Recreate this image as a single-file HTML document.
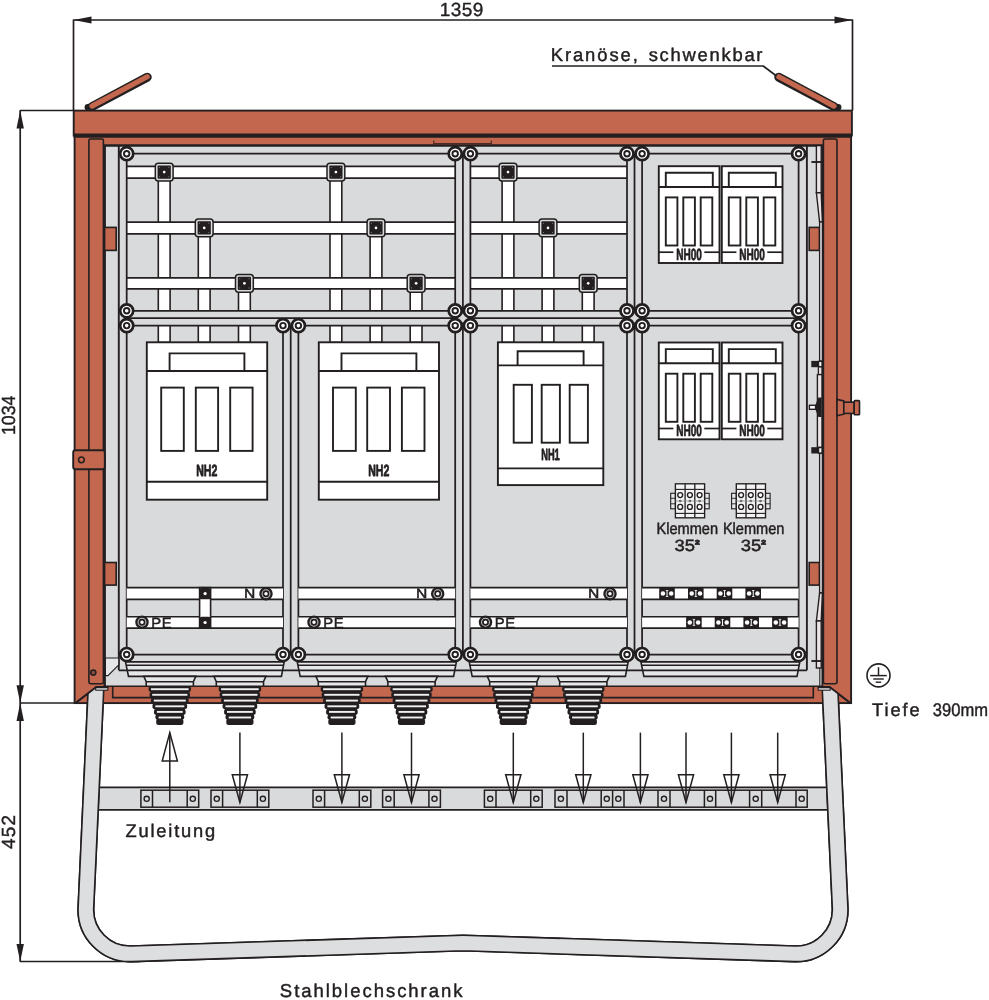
<!DOCTYPE html>
<html lang="de">
<head>
<meta charset="utf-8">
<title>Stahlblechschrank</title>
<style>
html,body{margin:0;padding:0;background:#fff;}
body{width:989px;height:1000px;overflow:hidden;}
svg{display:block;font-family:"Liberation Sans",sans-serif;will-change:transform;}
text{text-rendering:geometricPrecision;}
</style>
</head>
<body>
<svg width="989" height="1000" viewBox="0 0 989 1000" role="img" aria-label="Stahlblechschrank 1359 x 1034, Tiefe 390mm">
<g id="dims">
<line x1="73.5" y1="20" x2="852.5" y2="20" stroke="#231f20" stroke-width="1.7"/>
<line x1="73.5" y1="19.5" x2="73.5" y2="110.5" stroke="#231f20" stroke-width="1.7"/>
<line x1="852.5" y1="19.5" x2="852.5" y2="110.5" stroke="#231f20" stroke-width="1.7"/>
<path d="M73.5,20 L91.5,16.5 L91.5,23.5 Z" fill="#231f20"/>
<path d="M852.5,20 L834.5,16.5 L834.5,23.5 Z" fill="#231f20"/>
<line x1="20.2" y1="110.5" x2="20.2" y2="961.5" stroke="#231f20" stroke-width="1.7"/>
<line x1="19.7" y1="110.5" x2="74" y2="110.5" stroke="#231f20" stroke-width="1.7"/>
<line x1="19.7" y1="703" x2="75" y2="703" stroke="#231f20" stroke-width="1.7"/>
<line x1="19.7" y1="961.5" x2="140" y2="961.5" stroke="#231f20" stroke-width="1.7"/>
<path d="M20.2,110.5 L16.5,128.5 L23.9,128.5 Z" fill="#231f20"/>
<path d="M20.2,703 L16.5,685.3 L23.9,685.3 Z" fill="#231f20"/>
<path d="M20.2,703 L16.5,721 L23.9,721 Z" fill="#231f20"/>
<path d="M20.2,961.5 L16.5,944 L23.9,944 Z" fill="#231f20"/>
<text x="439.84" y="15.5" font-size="19" fill="#231f20" letter-spacing="0.42" stroke="#231f20" stroke-width="0.4" stroke-linejoin="round">1359</text>
<text x="15" y="435.12" font-size="19" fill="#231f20" textLength="39.51" lengthAdjust="spacingAndGlyphs" stroke="#231f20" stroke-width="0.4" stroke-linejoin="round" transform="rotate(-90 15 435.12)">1034</text>
<text x="15" y="849.05" font-size="19" fill="#231f20" letter-spacing="1.2" stroke="#231f20" stroke-width="0.4" stroke-linejoin="round" transform="rotate(-90 15 849.05)">452</text>
</g>
<g id="stand">
<rect x="97" y="787.3" width="732" height="22.6" fill="#d9dadb"/>
<line x1="97" y1="787.3" x2="829" y2="787.3" stroke="#231f20" stroke-width="1.75"/>
<line x1="97" y1="809.9" x2="829" y2="809.9" stroke="#231f20" stroke-width="1.75"/>
<rect x="140.9" y="790.2" width="57.8" height="17" fill="#d9dadb" stroke="#231f20" stroke-width="1.5"/>
<line x1="152.5" y1="790.2" x2="152.5" y2="807.2" stroke="#231f20" stroke-width="1.5"/>
<line x1="187.2" y1="790.2" x2="187.2" y2="807.2" stroke="#231f20" stroke-width="1.5"/>
<circle cx="146.7" cy="798.8" r="2.6" fill="#d9dadb" stroke="#231f20" stroke-width="1.35"/>
<circle cx="192.8" cy="798.8" r="2.6" fill="#d9dadb" stroke="#231f20" stroke-width="1.35"/>
<rect x="211" y="790.2" width="57.8" height="17" fill="#d9dadb" stroke="#231f20" stroke-width="1.5"/>
<line x1="222.6" y1="790.2" x2="222.6" y2="807.2" stroke="#231f20" stroke-width="1.5"/>
<line x1="257.3" y1="790.2" x2="257.3" y2="807.2" stroke="#231f20" stroke-width="1.5"/>
<circle cx="216.8" cy="798.8" r="2.6" fill="#d9dadb" stroke="#231f20" stroke-width="1.35"/>
<circle cx="262.9" cy="798.8" r="2.6" fill="#d9dadb" stroke="#231f20" stroke-width="1.35"/>
<rect x="313" y="790.2" width="57.8" height="17" fill="#d9dadb" stroke="#231f20" stroke-width="1.5"/>
<line x1="324.6" y1="790.2" x2="324.6" y2="807.2" stroke="#231f20" stroke-width="1.5"/>
<line x1="359.3" y1="790.2" x2="359.3" y2="807.2" stroke="#231f20" stroke-width="1.5"/>
<circle cx="318.8" cy="798.8" r="2.6" fill="#d9dadb" stroke="#231f20" stroke-width="1.35"/>
<circle cx="364.9" cy="798.8" r="2.6" fill="#d9dadb" stroke="#231f20" stroke-width="1.35"/>
<rect x="382.6" y="790.2" width="57.8" height="17" fill="#d9dadb" stroke="#231f20" stroke-width="1.5"/>
<line x1="394.2" y1="790.2" x2="394.2" y2="807.2" stroke="#231f20" stroke-width="1.5"/>
<line x1="428.9" y1="790.2" x2="428.9" y2="807.2" stroke="#231f20" stroke-width="1.5"/>
<circle cx="388.4" cy="798.8" r="2.6" fill="#d9dadb" stroke="#231f20" stroke-width="1.35"/>
<circle cx="434.5" cy="798.8" r="2.6" fill="#d9dadb" stroke="#231f20" stroke-width="1.35"/>
<rect x="484.4" y="790.2" width="57.8" height="17" fill="#d9dadb" stroke="#231f20" stroke-width="1.5"/>
<line x1="496" y1="790.2" x2="496" y2="807.2" stroke="#231f20" stroke-width="1.5"/>
<line x1="530.7" y1="790.2" x2="530.7" y2="807.2" stroke="#231f20" stroke-width="1.5"/>
<circle cx="490.2" cy="798.8" r="2.6" fill="#d9dadb" stroke="#231f20" stroke-width="1.35"/>
<circle cx="536.3" cy="798.8" r="2.6" fill="#d9dadb" stroke="#231f20" stroke-width="1.35"/>
<rect x="555" y="790.2" width="252.2" height="17" fill="#d9dadb" stroke="#231f20" stroke-width="1.5"/>
<line x1="567" y1="790.2" x2="567" y2="807.2" stroke="#231f20" stroke-width="1.5"/>
<line x1="601.2" y1="790.2" x2="601.2" y2="807.2" stroke="#231f20" stroke-width="1.5"/>
<line x1="612.6" y1="790.2" x2="612.6" y2="807.2" stroke="#231f20" stroke-width="1.5"/>
<line x1="624" y1="790.2" x2="624" y2="807.2" stroke="#231f20" stroke-width="1.5"/>
<line x1="658" y1="790.2" x2="658" y2="807.2" stroke="#231f20" stroke-width="1.5"/>
<line x1="670" y1="790.2" x2="670" y2="807.2" stroke="#231f20" stroke-width="1.5"/>
<line x1="704.4" y1="790.2" x2="704.4" y2="807.2" stroke="#231f20" stroke-width="1.5"/>
<line x1="715.7" y1="790.2" x2="715.7" y2="807.2" stroke="#231f20" stroke-width="1.5"/>
<line x1="749.6" y1="790.2" x2="749.6" y2="807.2" stroke="#231f20" stroke-width="1.5"/>
<line x1="761.7" y1="790.2" x2="761.7" y2="807.2" stroke="#231f20" stroke-width="1.5"/>
<line x1="796" y1="790.2" x2="796" y2="807.2" stroke="#231f20" stroke-width="1.5"/>
<circle cx="560.9" cy="798.8" r="2.6" fill="#d9dadb" stroke="#231f20" stroke-width="1.35"/>
<circle cx="606.8" cy="798.8" r="2.6" fill="#d9dadb" stroke="#231f20" stroke-width="1.35"/>
<circle cx="618.3" cy="798.8" r="2.6" fill="#d9dadb" stroke="#231f20" stroke-width="1.35"/>
<circle cx="664" cy="798.8" r="2.6" fill="#d9dadb" stroke="#231f20" stroke-width="1.35"/>
<circle cx="710" cy="798.8" r="2.6" fill="#d9dadb" stroke="#231f20" stroke-width="1.35"/>
<circle cx="755.7" cy="798.8" r="2.6" fill="#d9dadb" stroke="#231f20" stroke-width="1.35"/>
<circle cx="801.7" cy="798.8" r="2.6" fill="#d9dadb" stroke="#231f20" stroke-width="1.35"/>
<path d="M96,688 L85.9,907.8 A44,44 0 0 0 131.4,953.8 L463,943 L794.6,953.8 A44,44 0 0 0 840.1,907.8 L830,688" fill="none" stroke="#231f20" stroke-width="17.2" stroke-linejoin="miter"/>
<path d="M96,688 L85.9,907.8 A44,44 0 0 0 131.4,953.8 L463,943 L794.6,953.8 A44,44 0 0 0 840.1,907.8 L830,688" fill="none" stroke="#dddedf" stroke-width="14" stroke-linejoin="miter"/>
</g>
<g id="arrows">
<line x1="169.8" y1="732.6" x2="169.8" y2="802.2" stroke="#231f20" stroke-width="1.5"/>
<path d="M169.8,732.6 L162.2,761 L177.4,761 Z" fill="none" stroke="#231f20" stroke-width="1.5" stroke-linejoin="miter"/>
<line x1="239.9" y1="732.6" x2="239.9" y2="802.5" stroke="#231f20" stroke-width="1.5"/>
<path d="M239.9,802.5 L232.3,774.8 L247.5,774.8 Z" fill="none" stroke="#231f20" stroke-width="1.5" stroke-linejoin="miter"/>
<line x1="341.9" y1="732.6" x2="341.9" y2="802.5" stroke="#231f20" stroke-width="1.5"/>
<path d="M341.9,802.5 L334.3,774.8 L349.5,774.8 Z" fill="none" stroke="#231f20" stroke-width="1.5" stroke-linejoin="miter"/>
<line x1="411.5" y1="732.6" x2="411.5" y2="802.5" stroke="#231f20" stroke-width="1.5"/>
<path d="M411.5,802.5 L403.9,774.8 L419.1,774.8 Z" fill="none" stroke="#231f20" stroke-width="1.5" stroke-linejoin="miter"/>
<line x1="513.3" y1="732.6" x2="513.3" y2="802.5" stroke="#231f20" stroke-width="1.5"/>
<path d="M513.3,802.5 L505.7,774.8 L520.9,774.8 Z" fill="none" stroke="#231f20" stroke-width="1.5" stroke-linejoin="miter"/>
<line x1="583.3" y1="732.6" x2="583.3" y2="802.5" stroke="#231f20" stroke-width="1.5"/>
<path d="M583.3,802.5 L575.7,774.8 L590.9,774.8 Z" fill="none" stroke="#231f20" stroke-width="1.5" stroke-linejoin="miter"/>
<line x1="640.4" y1="732.6" x2="640.4" y2="802.5" stroke="#231f20" stroke-width="1.5"/>
<path d="M640.4,802.5 L632.8,774.8 L648,774.8 Z" fill="none" stroke="#231f20" stroke-width="1.5" stroke-linejoin="miter"/>
<line x1="686" y1="732.6" x2="686" y2="802.5" stroke="#231f20" stroke-width="1.5"/>
<path d="M686,802.5 L678.4,774.8 L693.6,774.8 Z" fill="none" stroke="#231f20" stroke-width="1.5" stroke-linejoin="miter"/>
<line x1="731.4" y1="732.6" x2="731.4" y2="802.5" stroke="#231f20" stroke-width="1.5"/>
<path d="M731.4,802.5 L723.8,774.8 L739,774.8 Z" fill="none" stroke="#231f20" stroke-width="1.5" stroke-linejoin="miter"/>
<line x1="777.7" y1="732.6" x2="777.7" y2="802.5" stroke="#231f20" stroke-width="1.5"/>
<path d="M777.7,802.5 L770.1,774.8 L785.3,774.8 Z" fill="none" stroke="#231f20" stroke-width="1.5" stroke-linejoin="miter"/>
</g>
<g id="cabinet">
<circle cx="87.8" cy="107.3" r="3.2" fill="#231f20"/>
<circle cx="838.2" cy="107.3" r="3.2" fill="#231f20"/>
<line x1="92" y1="106.6" x2="147.2" y2="77.2" stroke="#231f20" stroke-width="9" stroke-linecap="round"/>
<line x1="92" y1="106.1" x2="147.2" y2="76.7" stroke="#c3674f" stroke-width="5.2" stroke-linecap="round"/>
<line x1="834" y1="106.6" x2="778.8" y2="77.2" stroke="#231f20" stroke-width="9" stroke-linecap="round"/>
<line x1="834" y1="106.1" x2="778.8" y2="76.7" stroke="#c3674f" stroke-width="5.2" stroke-linecap="round"/>
<rect x="74.6" y="130" width="776.5" height="573.1" fill="#c3674f" stroke="#231f20" stroke-width="1.9"/>
<rect x="73.7" y="110.6" width="778.2" height="24.9" fill="#c3674f" stroke="#231f20" stroke-width="1.9"/>
<line x1="73.5" y1="135.6" x2="852" y2="135.6" stroke="#231f20" stroke-width="4.2"/>
<rect x="104.6" y="145" width="718" height="541.3" fill="#d9dadb"/>
<line x1="104" y1="145.5" x2="823" y2="145.5" stroke="#231f20" stroke-width="2.4"/>
<line x1="104.7" y1="145" x2="104.7" y2="686.3" stroke="#231f20" stroke-width="2.4"/>
<line x1="822.4" y1="145" x2="822.4" y2="686.3" stroke="#231f20" stroke-width="1.8"/>
<line x1="104" y1="686.3" x2="823" y2="686.3" stroke="#231f20" stroke-width="1.5"/>
<path d="M433.8,140.6 L433.8,143.6 L491.3,143.6 L491.3,140.6" fill="none" stroke="#4a2a22" stroke-width="1.2"/>
<rect x="88.9" y="139" width="14.5" height="544.7" fill="#c3674f" stroke="#231f20" stroke-width="1.6" rx="1.6"/>
<rect x="823.4" y="139" width="13.6" height="544.7" fill="#c3674f" stroke="#231f20" stroke-width="1.6" rx="1.6"/>
<path d="M112.7,686.3 L112.7,697.6 L813.3,697.6 L813.3,686.3" fill="none" stroke="#231f20" stroke-width="1.6"/>
<line x1="75.5" y1="703" x2="95.7" y2="687.5" stroke="#231f20" stroke-width="1.6"/>
<line x1="850.3" y1="703" x2="830.2" y2="687.5" stroke="#231f20" stroke-width="1.6"/>
</g>
<g id="interior">
<rect x="158.3" y="172.1" width="11.8" height="170.4" fill="#ffffff" stroke="#231f20" stroke-width="1.6"/>
<rect x="198.3" y="227.9" width="11.8" height="114.6" fill="#ffffff" stroke="#231f20" stroke-width="1.6"/>
<rect x="238.5" y="283.3" width="11.8" height="59.2" fill="#ffffff" stroke="#231f20" stroke-width="1.6"/>
<rect x="330" y="172.1" width="11.8" height="170.4" fill="#ffffff" stroke="#231f20" stroke-width="1.6"/>
<rect x="370.1" y="227.9" width="11.8" height="114.6" fill="#ffffff" stroke="#231f20" stroke-width="1.6"/>
<rect x="410.2" y="283.3" width="11.8" height="59.2" fill="#ffffff" stroke="#231f20" stroke-width="1.6"/>
<rect x="502.1" y="172.1" width="11.8" height="170.4" fill="#ffffff" stroke="#231f20" stroke-width="1.6"/>
<rect x="542.1" y="227.9" width="11.8" height="114.6" fill="#ffffff" stroke="#231f20" stroke-width="1.6"/>
<rect x="582.3" y="283.3" width="11.8" height="59.2" fill="#ffffff" stroke="#231f20" stroke-width="1.6"/>
<rect x="126.7" y="166.4" width="328.5" height="11.6" fill="#ffffff"/>
<line x1="126.7" y1="166.4" x2="455.2" y2="166.4" stroke="#231f20" stroke-width="1.75"/>
<line x1="126.7" y1="178" x2="455.2" y2="178" stroke="#231f20" stroke-width="1.75"/>
<rect x="126.7" y="222.2" width="328.5" height="11.7" fill="#ffffff"/>
<line x1="126.7" y1="222.2" x2="455.2" y2="222.2" stroke="#231f20" stroke-width="1.75"/>
<line x1="126.7" y1="233.9" x2="455.2" y2="233.9" stroke="#231f20" stroke-width="1.75"/>
<rect x="126.7" y="277.8" width="328.5" height="11.1" fill="#ffffff"/>
<line x1="126.7" y1="277.8" x2="455.2" y2="277.8" stroke="#231f20" stroke-width="1.75"/>
<line x1="126.7" y1="288.9" x2="455.2" y2="288.9" stroke="#231f20" stroke-width="1.75"/>
<rect x="470.4" y="166.4" width="156.6" height="11.6" fill="#ffffff"/>
<line x1="470.4" y1="166.4" x2="627" y2="166.4" stroke="#231f20" stroke-width="1.75"/>
<line x1="470.4" y1="178" x2="627" y2="178" stroke="#231f20" stroke-width="1.75"/>
<rect x="470.4" y="222.2" width="156.6" height="11.7" fill="#ffffff"/>
<line x1="470.4" y1="222.2" x2="627" y2="222.2" stroke="#231f20" stroke-width="1.75"/>
<line x1="470.4" y1="233.9" x2="627" y2="233.9" stroke="#231f20" stroke-width="1.75"/>
<rect x="470.4" y="277.8" width="156.6" height="11.1" fill="#ffffff"/>
<line x1="470.4" y1="277.8" x2="627" y2="277.8" stroke="#231f20" stroke-width="1.75"/>
<line x1="470.4" y1="288.9" x2="627" y2="288.9" stroke="#231f20" stroke-width="1.75"/>
<rect x="155.3" y="163.2" width="17.8" height="17.8" fill="#d9dadb" stroke="#231f20" stroke-width="1.5" rx="3"/>
<rect x="157.6" y="165.5" width="13.2" height="13.2" fill="#231f20" rx="0.8"/>
<circle cx="159.6" cy="167.5" r="0.55" fill="#8a8a8a"/>
<circle cx="159.6" cy="176.7" r="0.55" fill="#8a8a8a"/>
<circle cx="168.8" cy="167.5" r="0.55" fill="#8a8a8a"/>
<circle cx="168.8" cy="176.7" r="0.55" fill="#8a8a8a"/>
<circle cx="164.2" cy="172.1" r="1.35" fill="#ffffff"/>
<rect x="195.3" y="219" width="17.8" height="17.8" fill="#d9dadb" stroke="#231f20" stroke-width="1.5" rx="3"/>
<rect x="197.6" y="221.3" width="13.2" height="13.2" fill="#231f20" rx="0.8"/>
<circle cx="199.6" cy="223.3" r="0.55" fill="#8a8a8a"/>
<circle cx="199.6" cy="232.5" r="0.55" fill="#8a8a8a"/>
<circle cx="208.8" cy="223.3" r="0.55" fill="#8a8a8a"/>
<circle cx="208.8" cy="232.5" r="0.55" fill="#8a8a8a"/>
<circle cx="204.2" cy="227.9" r="1.35" fill="#ffffff"/>
<rect x="235.5" y="274.4" width="17.8" height="17.8" fill="#d9dadb" stroke="#231f20" stroke-width="1.5" rx="3"/>
<rect x="237.8" y="276.7" width="13.2" height="13.2" fill="#231f20" rx="0.8"/>
<circle cx="239.8" cy="278.7" r="0.55" fill="#8a8a8a"/>
<circle cx="239.8" cy="287.9" r="0.55" fill="#8a8a8a"/>
<circle cx="249" cy="278.7" r="0.55" fill="#8a8a8a"/>
<circle cx="249" cy="287.9" r="0.55" fill="#8a8a8a"/>
<circle cx="244.4" cy="283.3" r="1.35" fill="#ffffff"/>
<rect x="327" y="163.2" width="17.8" height="17.8" fill="#d9dadb" stroke="#231f20" stroke-width="1.5" rx="3"/>
<rect x="329.3" y="165.5" width="13.2" height="13.2" fill="#231f20" rx="0.8"/>
<circle cx="331.3" cy="167.5" r="0.55" fill="#8a8a8a"/>
<circle cx="331.3" cy="176.7" r="0.55" fill="#8a8a8a"/>
<circle cx="340.5" cy="167.5" r="0.55" fill="#8a8a8a"/>
<circle cx="340.5" cy="176.7" r="0.55" fill="#8a8a8a"/>
<circle cx="335.9" cy="172.1" r="1.35" fill="#ffffff"/>
<rect x="367.1" y="219" width="17.8" height="17.8" fill="#d9dadb" stroke="#231f20" stroke-width="1.5" rx="3"/>
<rect x="369.4" y="221.3" width="13.2" height="13.2" fill="#231f20" rx="0.8"/>
<circle cx="371.4" cy="223.3" r="0.55" fill="#8a8a8a"/>
<circle cx="371.4" cy="232.5" r="0.55" fill="#8a8a8a"/>
<circle cx="380.6" cy="223.3" r="0.55" fill="#8a8a8a"/>
<circle cx="380.6" cy="232.5" r="0.55" fill="#8a8a8a"/>
<circle cx="376" cy="227.9" r="1.35" fill="#ffffff"/>
<rect x="407.2" y="274.4" width="17.8" height="17.8" fill="#d9dadb" stroke="#231f20" stroke-width="1.5" rx="3"/>
<rect x="409.5" y="276.7" width="13.2" height="13.2" fill="#231f20" rx="0.8"/>
<circle cx="411.5" cy="278.7" r="0.55" fill="#8a8a8a"/>
<circle cx="411.5" cy="287.9" r="0.55" fill="#8a8a8a"/>
<circle cx="420.7" cy="278.7" r="0.55" fill="#8a8a8a"/>
<circle cx="420.7" cy="287.9" r="0.55" fill="#8a8a8a"/>
<circle cx="416.1" cy="283.3" r="1.35" fill="#ffffff"/>
<rect x="499.1" y="163.2" width="17.8" height="17.8" fill="#d9dadb" stroke="#231f20" stroke-width="1.5" rx="3"/>
<rect x="501.4" y="165.5" width="13.2" height="13.2" fill="#231f20" rx="0.8"/>
<circle cx="503.4" cy="167.5" r="0.55" fill="#8a8a8a"/>
<circle cx="503.4" cy="176.7" r="0.55" fill="#8a8a8a"/>
<circle cx="512.6" cy="167.5" r="0.55" fill="#8a8a8a"/>
<circle cx="512.6" cy="176.7" r="0.55" fill="#8a8a8a"/>
<circle cx="508" cy="172.1" r="1.35" fill="#ffffff"/>
<rect x="539.1" y="219" width="17.8" height="17.8" fill="#d9dadb" stroke="#231f20" stroke-width="1.5" rx="3"/>
<rect x="541.4" y="221.3" width="13.2" height="13.2" fill="#231f20" rx="0.8"/>
<circle cx="543.4" cy="223.3" r="0.55" fill="#8a8a8a"/>
<circle cx="543.4" cy="232.5" r="0.55" fill="#8a8a8a"/>
<circle cx="552.6" cy="223.3" r="0.55" fill="#8a8a8a"/>
<circle cx="552.6" cy="232.5" r="0.55" fill="#8a8a8a"/>
<circle cx="548" cy="227.9" r="1.35" fill="#ffffff"/>
<rect x="579.3" y="274.4" width="17.8" height="17.8" fill="#d9dadb" stroke="#231f20" stroke-width="1.5" rx="3"/>
<rect x="581.6" y="276.7" width="13.2" height="13.2" fill="#231f20" rx="0.8"/>
<circle cx="583.6" cy="278.7" r="0.55" fill="#8a8a8a"/>
<circle cx="583.6" cy="287.9" r="0.55" fill="#8a8a8a"/>
<circle cx="592.8" cy="278.7" r="0.55" fill="#8a8a8a"/>
<circle cx="592.8" cy="287.9" r="0.55" fill="#8a8a8a"/>
<circle cx="588.2" cy="283.3" r="1.35" fill="#ffffff"/>
<rect x="126.7" y="310.8" width="671.9" height="14.8" fill="#d9dadb"/>
<line x1="126.7" y1="310.8" x2="798.6" y2="310.8" stroke="#231f20" stroke-width="1.75"/>
<line x1="126.7" y1="318.1" x2="798.6" y2="318.1" stroke="#231f20" stroke-width="1.75"/>
<line x1="126.7" y1="325.6" x2="798.6" y2="325.6" stroke="#231f20" stroke-width="1.75"/>
<line x1="126.7" y1="153.7" x2="798.6" y2="153.7" stroke="#231f20" stroke-width="1.75"/>
<line x1="126.7" y1="654.5" x2="798.6" y2="654.5" stroke="#231f20" stroke-width="1.75"/>
<rect x="455.2" y="153.7" width="15.2" height="500.8" fill="#d9dadb"/>
<line x1="455.2" y1="153.7" x2="455.2" y2="654.5" stroke="#231f20" stroke-width="1.75"/>
<line x1="462.9" y1="153.7" x2="462.9" y2="654.5" stroke="#231f20" stroke-width="1.75"/>
<line x1="470.4" y1="153.7" x2="470.4" y2="654.5" stroke="#231f20" stroke-width="1.75"/>
<rect x="627" y="153.7" width="15.1" height="500.8" fill="#d9dadb"/>
<line x1="627" y1="153.7" x2="627" y2="654.5" stroke="#231f20" stroke-width="1.75"/>
<line x1="634.5" y1="153.7" x2="634.5" y2="654.5" stroke="#231f20" stroke-width="1.75"/>
<line x1="642.1" y1="153.7" x2="642.1" y2="654.5" stroke="#231f20" stroke-width="1.75"/>
<rect x="283" y="325.6" width="15.4" height="328.9" fill="#d9dadb"/>
<line x1="283" y1="325.6" x2="283" y2="654.5" stroke="#231f20" stroke-width="1.75"/>
<line x1="290.7" y1="325.6" x2="290.7" y2="654.5" stroke="#231f20" stroke-width="1.75"/>
<line x1="298.4" y1="325.6" x2="298.4" y2="654.5" stroke="#231f20" stroke-width="1.75"/>
<line x1="126.7" y1="153.7" x2="126.7" y2="654.5" stroke="#231f20" stroke-width="1.75"/>
<line x1="798.6" y1="153.7" x2="798.6" y2="654.5" stroke="#231f20" stroke-width="1.75"/>
<line x1="118.8" y1="145.5" x2="118.8" y2="670.3" stroke="#231f20" stroke-width="1.9"/>
<line x1="806.9" y1="145.5" x2="806.9" y2="670.3" stroke="#231f20" stroke-width="1.9"/>
<line x1="118.8" y1="670.4" x2="806.9" y2="670.4" stroke="#231f20" stroke-width="1.75"/>
</g>
<g id="switches">
<rect x="146.8" y="342.3" width="120.4" height="157.4" fill="#ffffff" stroke="#231f20" stroke-width="1.9"/>
<line x1="146.8" y1="371" x2="267.2" y2="371" stroke="#231f20" stroke-width="1.9"/>
<line x1="146.8" y1="481.8" x2="267.2" y2="481.8" stroke="#231f20" stroke-width="1.9"/>
<path d="M169.6,371 L169.6,353.4 L244.4,353.4 L244.4,371" fill="none" stroke="#231f20" stroke-width="1.9"/>
<rect x="161.2" y="387.6" width="22.6" height="63.3" fill="#ffffff" stroke="#231f20" stroke-width="1.9"/>
<rect x="195.8" y="387.6" width="22.3" height="63.3" fill="#ffffff" stroke="#231f20" stroke-width="1.9"/>
<rect x="230.2" y="387.6" width="22.4" height="63.3" fill="#ffffff" stroke="#231f20" stroke-width="1.9"/>
<text x="196.19" y="476.1" font-size="16.2" fill="#231f20" font-weight="bold" textLength="21.17" lengthAdjust="spacingAndGlyphs" stroke="#231f20" stroke-width="0.8" stroke-linejoin="round">NH2</text>
<rect x="318.8" y="342.3" width="120.2" height="157.4" fill="#ffffff" stroke="#231f20" stroke-width="1.9"/>
<line x1="318.8" y1="371" x2="439" y2="371" stroke="#231f20" stroke-width="1.9"/>
<line x1="318.8" y1="481.8" x2="439" y2="481.8" stroke="#231f20" stroke-width="1.9"/>
<path d="M341.5,371 L341.5,353.4 L416.4,353.4 L416.4,371" fill="none" stroke="#231f20" stroke-width="1.9"/>
<rect x="333" y="387.6" width="22.8" height="63.3" fill="#ffffff" stroke="#231f20" stroke-width="1.9"/>
<rect x="367.2" y="387.6" width="22.8" height="63.3" fill="#ffffff" stroke="#231f20" stroke-width="1.9"/>
<rect x="401.9" y="387.6" width="22.6" height="63.3" fill="#ffffff" stroke="#231f20" stroke-width="1.9"/>
<text x="368.19" y="476.1" font-size="16.2" fill="#231f20" font-weight="bold" textLength="21.17" lengthAdjust="spacingAndGlyphs" stroke="#231f20" stroke-width="0.8" stroke-linejoin="round">NH2</text>
<rect x="497.9" y="342.3" width="105.4" height="142.8" fill="#ffffff" stroke="#231f20" stroke-width="1.9"/>
<line x1="497.9" y1="365.4" x2="603.3" y2="365.4" stroke="#231f20" stroke-width="1.9"/>
<line x1="497.9" y1="468.4" x2="603.3" y2="468.4" stroke="#231f20" stroke-width="1.9"/>
<path d="M517.6,365.4 L517.6,351.3 L583.6,351.3 L583.6,365.4" fill="none" stroke="#231f20" stroke-width="1.9"/>
<rect x="513.7" y="384.8" width="18.2" height="57.9" fill="#ffffff" stroke="#231f20" stroke-width="1.9"/>
<rect x="541.7" y="384.8" width="18.2" height="57.9" fill="#ffffff" stroke="#231f20" stroke-width="1.9"/>
<rect x="569.7" y="384.8" width="18.2" height="57.9" fill="#ffffff" stroke="#231f20" stroke-width="1.9"/>
<text x="541.18" y="460.1" font-size="16.3" fill="#231f20" font-weight="bold" textLength="18.58" lengthAdjust="spacingAndGlyphs" stroke="#231f20" stroke-width="0.8" stroke-linejoin="round">NH1</text>
<rect x="658.8" y="166.2" width="60.7" height="96.8" fill="#ffffff" stroke="#231f20" stroke-width="1.9"/>
<line x1="658.8" y1="187" x2="719.5" y2="187" stroke="#231f20" stroke-width="1.9"/>
<path d="M665.8,187 L665.8,172.8 L712.8,172.8 L712.8,187" fill="none" stroke="#231f20" stroke-width="1.9"/>
<rect x="665.8" y="197.4" width="11.6" height="48.1" fill="#ffffff" stroke="#231f20" stroke-width="1.9"/>
<rect x="683.3" y="197.4" width="11.6" height="48.1" fill="#ffffff" stroke="#231f20" stroke-width="1.9"/>
<rect x="700.7" y="197.4" width="11.6" height="48.1" fill="#ffffff" stroke="#231f20" stroke-width="1.9"/>
<line x1="658.8" y1="252.2" x2="673.4" y2="252.2" stroke="#231f20" stroke-width="1.7"/>
<line x1="704.3" y1="252.2" x2="719.5" y2="252.2" stroke="#231f20" stroke-width="1.7"/>
<text x="676.13" y="259.7" font-size="16.3" fill="#231f20" font-weight="bold" textLength="25.77" lengthAdjust="spacingAndGlyphs" stroke="#231f20" stroke-width="0.7" stroke-linejoin="round">NH00</text>
<rect x="721.8" y="166.2" width="60.7" height="96.8" fill="#ffffff" stroke="#231f20" stroke-width="1.9"/>
<line x1="721.8" y1="187" x2="782.5" y2="187" stroke="#231f20" stroke-width="1.9"/>
<path d="M728.8,187 L728.8,172.8 L775.8,172.8 L775.8,187" fill="none" stroke="#231f20" stroke-width="1.9"/>
<rect x="728.8" y="197.4" width="11.6" height="48.1" fill="#ffffff" stroke="#231f20" stroke-width="1.9"/>
<rect x="746.3" y="197.4" width="11.6" height="48.1" fill="#ffffff" stroke="#231f20" stroke-width="1.9"/>
<rect x="763.7" y="197.4" width="11.6" height="48.1" fill="#ffffff" stroke="#231f20" stroke-width="1.9"/>
<line x1="721.8" y1="252.2" x2="736.4" y2="252.2" stroke="#231f20" stroke-width="1.7"/>
<line x1="767.3" y1="252.2" x2="782.5" y2="252.2" stroke="#231f20" stroke-width="1.7"/>
<text x="739.13" y="259.7" font-size="16.3" fill="#231f20" font-weight="bold" textLength="25.77" lengthAdjust="spacingAndGlyphs" stroke="#231f20" stroke-width="0.7" stroke-linejoin="round">NH00</text>
<rect x="658.8" y="342.5" width="60.7" height="96.8" fill="#ffffff" stroke="#231f20" stroke-width="1.9"/>
<line x1="658.8" y1="363.3" x2="719.5" y2="363.3" stroke="#231f20" stroke-width="1.9"/>
<path d="M665.8,363.3 L665.8,349.1 L712.8,349.1 L712.8,363.3" fill="none" stroke="#231f20" stroke-width="1.9"/>
<rect x="665.8" y="373.7" width="11.6" height="48.1" fill="#ffffff" stroke="#231f20" stroke-width="1.9"/>
<rect x="683.3" y="373.7" width="11.6" height="48.1" fill="#ffffff" stroke="#231f20" stroke-width="1.9"/>
<rect x="700.7" y="373.7" width="11.6" height="48.1" fill="#ffffff" stroke="#231f20" stroke-width="1.9"/>
<line x1="658.8" y1="428.5" x2="673.4" y2="428.5" stroke="#231f20" stroke-width="1.7"/>
<line x1="704.3" y1="428.5" x2="719.5" y2="428.5" stroke="#231f20" stroke-width="1.7"/>
<text x="676.13" y="436" font-size="16.3" fill="#231f20" font-weight="bold" textLength="25.77" lengthAdjust="spacingAndGlyphs" stroke="#231f20" stroke-width="0.7" stroke-linejoin="round">NH00</text>
<rect x="721.8" y="342.5" width="60.7" height="96.8" fill="#ffffff" stroke="#231f20" stroke-width="1.9"/>
<line x1="721.8" y1="363.3" x2="782.5" y2="363.3" stroke="#231f20" stroke-width="1.9"/>
<path d="M728.8,363.3 L728.8,349.1 L775.8,349.1 L775.8,363.3" fill="none" stroke="#231f20" stroke-width="1.9"/>
<rect x="728.8" y="373.7" width="11.6" height="48.1" fill="#ffffff" stroke="#231f20" stroke-width="1.9"/>
<rect x="746.3" y="373.7" width="11.6" height="48.1" fill="#ffffff" stroke="#231f20" stroke-width="1.9"/>
<rect x="763.7" y="373.7" width="11.6" height="48.1" fill="#ffffff" stroke="#231f20" stroke-width="1.9"/>
<line x1="721.8" y1="428.5" x2="736.4" y2="428.5" stroke="#231f20" stroke-width="1.7"/>
<line x1="767.3" y1="428.5" x2="782.5" y2="428.5" stroke="#231f20" stroke-width="1.7"/>
<text x="739.13" y="436" font-size="16.3" fill="#231f20" font-weight="bold" textLength="25.77" lengthAdjust="spacingAndGlyphs" stroke="#231f20" stroke-width="0.7" stroke-linejoin="round">NH00</text>
</g>
<g id="klemmen">
<rect x="670.7" y="493.3" width="4.7" height="15.5" fill="#e6e7e8" stroke="#231f20" stroke-width="1.1"/>
<rect x="704.6" y="493.3" width="4.6" height="15.5" fill="#e6e7e8" stroke="#231f20" stroke-width="1.1"/>
<line x1="670.7" y1="498.3" x2="675.4" y2="498.3" stroke="#231f20" stroke-width="0.9"/>
<line x1="670.7" y1="503.8" x2="675.4" y2="503.8" stroke="#231f20" stroke-width="0.9"/>
<line x1="704.6" y1="498.3" x2="709.2" y2="498.3" stroke="#231f20" stroke-width="0.9"/>
<line x1="704.6" y1="503.8" x2="709.2" y2="503.8" stroke="#231f20" stroke-width="0.9"/>
<rect x="675.4" y="483.8" width="29.2" height="34" fill="#f3f3f3" stroke="#231f20" stroke-width="1.35"/>
<line x1="685.1" y1="483.8" x2="685.1" y2="517.8" stroke="#231f20" stroke-width="1.3"/>
<line x1="694.8" y1="483.8" x2="694.8" y2="517.8" stroke="#231f20" stroke-width="1.3"/>
<line x1="675.4" y1="489.4" x2="704.6" y2="489.4" stroke="#231f20" stroke-width="1.1"/>
<line x1="675.4" y1="513.4" x2="704.6" y2="513.4" stroke="#231f20" stroke-width="1.1"/>
<line x1="675.4" y1="501" x2="704.6" y2="501" stroke="#8d8d8d" stroke-width="0.8"/>
<circle cx="680.2" cy="495.1" r="2.45" fill="#ffffff" stroke="#231f20" stroke-width="1.35"/>
<circle cx="680.2" cy="506.9" r="2.45" fill="#ffffff" stroke="#231f20" stroke-width="1.35"/>
<circle cx="680.2" cy="501" r="1.35" fill="#6d6d6d"/>
<circle cx="689.9" cy="495.1" r="2.45" fill="#ffffff" stroke="#231f20" stroke-width="1.35"/>
<circle cx="689.9" cy="506.9" r="2.45" fill="#ffffff" stroke="#231f20" stroke-width="1.35"/>
<circle cx="689.9" cy="501" r="1.35" fill="#6d6d6d"/>
<circle cx="699.6" cy="495.1" r="2.45" fill="#ffffff" stroke="#231f20" stroke-width="1.35"/>
<circle cx="699.6" cy="506.9" r="2.45" fill="#ffffff" stroke="#231f20" stroke-width="1.35"/>
<circle cx="699.6" cy="501" r="1.35" fill="#6d6d6d"/>
<rect x="731.6" y="493.3" width="4.7" height="15.5" fill="#e6e7e8" stroke="#231f20" stroke-width="1.1"/>
<rect x="765.5" y="493.3" width="4.6" height="15.5" fill="#e6e7e8" stroke="#231f20" stroke-width="1.1"/>
<line x1="731.6" y1="498.3" x2="736.3" y2="498.3" stroke="#231f20" stroke-width="0.9"/>
<line x1="731.6" y1="503.8" x2="736.3" y2="503.8" stroke="#231f20" stroke-width="0.9"/>
<line x1="765.5" y1="498.3" x2="770.1" y2="498.3" stroke="#231f20" stroke-width="0.9"/>
<line x1="765.5" y1="503.8" x2="770.1" y2="503.8" stroke="#231f20" stroke-width="0.9"/>
<rect x="736.3" y="483.8" width="29.2" height="34" fill="#f3f3f3" stroke="#231f20" stroke-width="1.35"/>
<line x1="746" y1="483.8" x2="746" y2="517.8" stroke="#231f20" stroke-width="1.3"/>
<line x1="755.7" y1="483.8" x2="755.7" y2="517.8" stroke="#231f20" stroke-width="1.3"/>
<line x1="736.3" y1="489.4" x2="765.5" y2="489.4" stroke="#231f20" stroke-width="1.1"/>
<line x1="736.3" y1="513.4" x2="765.5" y2="513.4" stroke="#231f20" stroke-width="1.1"/>
<line x1="736.3" y1="501" x2="765.5" y2="501" stroke="#8d8d8d" stroke-width="0.8"/>
<circle cx="741.1" cy="495.1" r="2.45" fill="#ffffff" stroke="#231f20" stroke-width="1.35"/>
<circle cx="741.1" cy="506.9" r="2.45" fill="#ffffff" stroke="#231f20" stroke-width="1.35"/>
<circle cx="741.1" cy="501" r="1.35" fill="#6d6d6d"/>
<circle cx="750.8" cy="495.1" r="2.45" fill="#ffffff" stroke="#231f20" stroke-width="1.35"/>
<circle cx="750.8" cy="506.9" r="2.45" fill="#ffffff" stroke="#231f20" stroke-width="1.35"/>
<circle cx="750.8" cy="501" r="1.35" fill="#6d6d6d"/>
<circle cx="760.5" cy="495.1" r="2.45" fill="#ffffff" stroke="#231f20" stroke-width="1.35"/>
<circle cx="760.5" cy="506.9" r="2.45" fill="#ffffff" stroke="#231f20" stroke-width="1.35"/>
<circle cx="760.5" cy="501" r="1.35" fill="#6d6d6d"/>
<text x="656.49" y="533.9" font-size="16.3" fill="#231f20" textLength="61.6" lengthAdjust="spacingAndGlyphs" stroke="#231f20" stroke-width="0.5" stroke-linejoin="round">Klemmen</text>
<text x="722.89" y="533.9" font-size="16.3" fill="#231f20" textLength="61.6" lengthAdjust="spacingAndGlyphs" stroke="#231f20" stroke-width="0.5" stroke-linejoin="round">Klemmen</text>
<text x="674.5" y="550.9" font-size="16.3" fill="#231f20" textLength="20.44" lengthAdjust="spacingAndGlyphs" stroke="#231f20" stroke-width="0.5" stroke-linejoin="round">35</text>
<text x="694.78" y="548.8" font-size="13" fill="#231f20" font-weight="bold" textLength="5.07" lengthAdjust="spacingAndGlyphs" stroke="#231f20" stroke-width="0.7" stroke-linejoin="round">²</text>
<text x="740.8" y="550.9" font-size="16.3" fill="#231f20" textLength="20.44" lengthAdjust="spacingAndGlyphs" stroke="#231f20" stroke-width="0.5" stroke-linejoin="round">35</text>
<text x="761.08" y="548.8" font-size="13" fill="#231f20" font-weight="bold" textLength="5.07" lengthAdjust="spacingAndGlyphs" stroke="#231f20" stroke-width="0.7" stroke-linejoin="round">²</text>
</g>
<g id="busbars">
<rect x="126.7" y="587.6" width="156.3" height="11.8" fill="#ffffff"/>
<line x1="126.7" y1="587.6" x2="283" y2="587.6" stroke="#231f20" stroke-width="1.6"/>
<line x1="126.7" y1="599.4" x2="283" y2="599.4" stroke="#231f20" stroke-width="1.6"/>
<rect x="126.7" y="616.8" width="156.3" height="11.3" fill="#ffffff"/>
<line x1="126.7" y1="616.8" x2="283" y2="616.8" stroke="#231f20" stroke-width="1.6"/>
<line x1="126.7" y1="628.1" x2="283" y2="628.1" stroke="#231f20" stroke-width="1.6"/>
<rect x="298.4" y="587.6" width="156.8" height="11.8" fill="#ffffff"/>
<line x1="298.4" y1="587.6" x2="455.2" y2="587.6" stroke="#231f20" stroke-width="1.6"/>
<line x1="298.4" y1="599.4" x2="455.2" y2="599.4" stroke="#231f20" stroke-width="1.6"/>
<rect x="298.4" y="616.8" width="156.8" height="11.3" fill="#ffffff"/>
<line x1="298.4" y1="616.8" x2="455.2" y2="616.8" stroke="#231f20" stroke-width="1.6"/>
<line x1="298.4" y1="628.1" x2="455.2" y2="628.1" stroke="#231f20" stroke-width="1.6"/>
<rect x="470.4" y="587.6" width="156.6" height="11.8" fill="#ffffff"/>
<line x1="470.4" y1="587.6" x2="627" y2="587.6" stroke="#231f20" stroke-width="1.6"/>
<line x1="470.4" y1="599.4" x2="627" y2="599.4" stroke="#231f20" stroke-width="1.6"/>
<rect x="470.4" y="616.8" width="156.6" height="11.3" fill="#ffffff"/>
<line x1="470.4" y1="616.8" x2="627" y2="616.8" stroke="#231f20" stroke-width="1.6"/>
<line x1="470.4" y1="628.1" x2="627" y2="628.1" stroke="#231f20" stroke-width="1.6"/>
<rect x="642.1" y="587.6" width="156.5" height="11.8" fill="#ffffff"/>
<line x1="642.1" y1="587.6" x2="798.6" y2="587.6" stroke="#231f20" stroke-width="1.6"/>
<line x1="642.1" y1="599.4" x2="798.6" y2="599.4" stroke="#231f20" stroke-width="1.6"/>
<rect x="642.1" y="616.8" width="156.5" height="11.3" fill="#ffffff"/>
<line x1="642.1" y1="616.8" x2="798.6" y2="616.8" stroke="#231f20" stroke-width="1.6"/>
<line x1="642.1" y1="628.1" x2="798.6" y2="628.1" stroke="#231f20" stroke-width="1.6"/>
<text x="243.9" y="598.4" font-size="13.3" fill="#231f20" textLength="11.29" lengthAdjust="spacingAndGlyphs" stroke="#231f20" stroke-width="0.5" stroke-linejoin="round">N</text>
<circle cx="266" cy="593.8" r="5.6" fill="#c4c5c6" stroke="#231f20" stroke-width="2.3"/>
<circle cx="266" cy="593.8" r="2.6" fill="#ffffff" stroke="#231f20" stroke-width="1.7"/>
<text x="416.1" y="598.4" font-size="13.3" fill="#231f20" textLength="11.29" lengthAdjust="spacingAndGlyphs" stroke="#231f20" stroke-width="0.5" stroke-linejoin="round">N</text>
<circle cx="437.7" cy="593.8" r="5.6" fill="#c4c5c6" stroke="#231f20" stroke-width="2.3"/>
<circle cx="437.7" cy="593.8" r="2.6" fill="#ffffff" stroke="#231f20" stroke-width="1.7"/>
<text x="588" y="598.4" font-size="13.3" fill="#231f20" textLength="11.29" lengthAdjust="spacingAndGlyphs" stroke="#231f20" stroke-width="0.5" stroke-linejoin="round">N</text>
<circle cx="610" cy="593.8" r="5.6" fill="#c4c5c6" stroke="#231f20" stroke-width="2.3"/>
<circle cx="610" cy="593.8" r="2.6" fill="#ffffff" stroke="#231f20" stroke-width="1.7"/>
<circle cx="142" cy="622.2" r="5.6" fill="#c4c5c6" stroke="#231f20" stroke-width="2.3"/>
<circle cx="142" cy="622.2" r="2.6" fill="#ffffff" stroke="#231f20" stroke-width="1.7"/>
<text x="151.36" y="627.8" font-size="14.8" fill="#231f20" letter-spacing="0.51" stroke="#231f20" stroke-width="0.5" stroke-linejoin="round">PE</text>
<circle cx="314" cy="622.2" r="5.6" fill="#c4c5c6" stroke="#231f20" stroke-width="2.3"/>
<circle cx="314" cy="622.2" r="2.6" fill="#ffffff" stroke="#231f20" stroke-width="1.7"/>
<text x="323.36" y="627.8" font-size="14.8" fill="#231f20" letter-spacing="0.51" stroke="#231f20" stroke-width="0.5" stroke-linejoin="round">PE</text>
<circle cx="485.5" cy="622.2" r="5.6" fill="#c4c5c6" stroke="#231f20" stroke-width="2.3"/>
<circle cx="485.5" cy="622.2" r="2.6" fill="#ffffff" stroke="#231f20" stroke-width="1.7"/>
<text x="494.76" y="627.8" font-size="14.8" fill="#231f20" letter-spacing="0.51" stroke="#231f20" stroke-width="0.5" stroke-linejoin="round">PE</text>
<rect x="199.6" y="587.6" width="11" height="40.5" fill="#ffffff" stroke="#231f20" stroke-width="1.6"/>
<rect x="199.2" y="587.9" width="11.8" height="11.4" fill="#231f20" rx="2.6"/>
<circle cx="205.1" cy="593.6" r="1.6" fill="#ffffff"/>
<rect x="199.2" y="616.8" width="11.8" height="11.4" fill="#231f20" rx="2.6"/>
<circle cx="205.1" cy="622.5" r="1.6" fill="#ffffff"/>
<rect x="659.2" y="587.6" width="15.6" height="11.8" fill="#231f20" rx="1.2"/>
<circle cx="662.9" cy="593.5" r="2.25" fill="#ffffff"/>
<circle cx="671.2" cy="593.5" r="2.25" fill="#ffffff"/>
<line x1="667.05" y1="590.5" x2="667.05" y2="596.5" stroke="#ffffff" stroke-width="1"/>
<line x1="665.8" y1="590.5" x2="668.3" y2="590.5" stroke="#ffffff" stroke-width="0.8"/>
<line x1="665.8" y1="596.5" x2="668.3" y2="596.5" stroke="#ffffff" stroke-width="0.8"/>
<rect x="688" y="587.6" width="15.6" height="11.8" fill="#231f20" rx="1.2"/>
<circle cx="691.7" cy="593.5" r="2.25" fill="#ffffff"/>
<circle cx="700" cy="593.5" r="2.25" fill="#ffffff"/>
<line x1="695.85" y1="590.5" x2="695.85" y2="596.5" stroke="#ffffff" stroke-width="1"/>
<line x1="694.6" y1="590.5" x2="697.1" y2="590.5" stroke="#ffffff" stroke-width="0.8"/>
<line x1="694.6" y1="596.5" x2="697.1" y2="596.5" stroke="#ffffff" stroke-width="0.8"/>
<rect x="716.7" y="587.6" width="15.6" height="11.8" fill="#231f20" rx="1.2"/>
<circle cx="720.4" cy="593.5" r="2.25" fill="#ffffff"/>
<circle cx="728.7" cy="593.5" r="2.25" fill="#ffffff"/>
<line x1="724.55" y1="590.5" x2="724.55" y2="596.5" stroke="#ffffff" stroke-width="1"/>
<line x1="723.3" y1="590.5" x2="725.8" y2="590.5" stroke="#ffffff" stroke-width="0.8"/>
<line x1="723.3" y1="596.5" x2="725.8" y2="596.5" stroke="#ffffff" stroke-width="0.8"/>
<rect x="745.4" y="587.6" width="15.6" height="11.8" fill="#231f20" rx="1.2"/>
<circle cx="749.1" cy="593.5" r="2.25" fill="#ffffff"/>
<circle cx="757.4" cy="593.5" r="2.25" fill="#ffffff"/>
<line x1="753.25" y1="590.5" x2="753.25" y2="596.5" stroke="#ffffff" stroke-width="1"/>
<line x1="752" y1="590.5" x2="754.5" y2="590.5" stroke="#ffffff" stroke-width="0.8"/>
<line x1="752" y1="596.5" x2="754.5" y2="596.5" stroke="#ffffff" stroke-width="0.8"/>
<rect x="686.1" y="616.5" width="15.6" height="11.8" fill="#231f20" rx="1.2"/>
<circle cx="689.8" cy="622.4" r="2.25" fill="#ffffff"/>
<circle cx="698.1" cy="622.4" r="2.25" fill="#ffffff"/>
<line x1="693.95" y1="619.4" x2="693.95" y2="625.4" stroke="#ffffff" stroke-width="1"/>
<line x1="692.7" y1="619.4" x2="695.2" y2="619.4" stroke="#ffffff" stroke-width="0.8"/>
<line x1="692.7" y1="625.4" x2="695.2" y2="625.4" stroke="#ffffff" stroke-width="0.8"/>
<rect x="714.7" y="616.5" width="15.6" height="11.8" fill="#231f20" rx="1.2"/>
<circle cx="718.4" cy="622.4" r="2.25" fill="#ffffff"/>
<circle cx="726.7" cy="622.4" r="2.25" fill="#ffffff"/>
<line x1="722.55" y1="619.4" x2="722.55" y2="625.4" stroke="#ffffff" stroke-width="1"/>
<line x1="721.3" y1="619.4" x2="723.8" y2="619.4" stroke="#ffffff" stroke-width="0.8"/>
<line x1="721.3" y1="625.4" x2="723.8" y2="625.4" stroke="#ffffff" stroke-width="0.8"/>
<rect x="743.4" y="616.5" width="15.6" height="11.8" fill="#231f20" rx="1.2"/>
<circle cx="747.1" cy="622.4" r="2.25" fill="#ffffff"/>
<circle cx="755.4" cy="622.4" r="2.25" fill="#ffffff"/>
<line x1="751.25" y1="619.4" x2="751.25" y2="625.4" stroke="#ffffff" stroke-width="1"/>
<line x1="750" y1="619.4" x2="752.5" y2="619.4" stroke="#ffffff" stroke-width="0.8"/>
<line x1="750" y1="625.4" x2="752.5" y2="625.4" stroke="#ffffff" stroke-width="0.8"/>
<rect x="772.1" y="616.5" width="15.6" height="11.8" fill="#231f20" rx="1.2"/>
<circle cx="775.8" cy="622.4" r="2.25" fill="#ffffff"/>
<circle cx="784.1" cy="622.4" r="2.25" fill="#ffffff"/>
<line x1="779.95" y1="619.4" x2="779.95" y2="625.4" stroke="#ffffff" stroke-width="1"/>
<line x1="778.7" y1="619.4" x2="781.2" y2="619.4" stroke="#ffffff" stroke-width="0.8"/>
<line x1="778.7" y1="625.4" x2="781.2" y2="625.4" stroke="#ffffff" stroke-width="0.8"/>
</g>
<g id="glands">
<path d="M125.5,661.9 L284.2,661.9 L281.4,676.4 L128.5,676.4 Z" fill="#e6e7e8" stroke="#231f20" stroke-width="1.6" stroke-linejoin="miter"/>
<line x1="126.1" y1="665.2" x2="283.6" y2="665.2" stroke="#231f20" stroke-width="1.6"/>
<line x1="127.3" y1="670.4" x2="282.5" y2="670.4" stroke="#231f20" stroke-width="1.6"/>
<path d="M297.2,661.9 L456.4,661.9 L453.6,676.4 L300.2,676.4 Z" fill="#e6e7e8" stroke="#231f20" stroke-width="1.6" stroke-linejoin="miter"/>
<line x1="297.8" y1="665.2" x2="455.8" y2="665.2" stroke="#231f20" stroke-width="1.6"/>
<line x1="299" y1="670.4" x2="454.7" y2="670.4" stroke="#231f20" stroke-width="1.6"/>
<path d="M469.2,661.9 L628.2,661.9 L625.4,676.4 L472.2,676.4 Z" fill="#e6e7e8" stroke="#231f20" stroke-width="1.6" stroke-linejoin="miter"/>
<line x1="469.8" y1="665.2" x2="627.6" y2="665.2" stroke="#231f20" stroke-width="1.6"/>
<line x1="471" y1="670.4" x2="626.5" y2="670.4" stroke="#231f20" stroke-width="1.6"/>
<path d="M640.9,661.9 L799.8,661.9 L797,676.4 L643.9,676.4 Z" fill="#e6e7e8" stroke="#231f20" stroke-width="1.6" stroke-linejoin="miter"/>
<line x1="641.5" y1="665.2" x2="799.2" y2="665.2" stroke="#231f20" stroke-width="1.6"/>
<line x1="642.7" y1="670.4" x2="798.1" y2="670.4" stroke="#231f20" stroke-width="1.6"/>
<path d="M143.8,676.4 L195.8,676.4 L193.4,681.6 L193.4,686.3 L146.2,686.3 L146.2,681.6 Z" fill="#e6e7e8" stroke="#231f20" stroke-width="1.6" stroke-linejoin="miter"/>
<line x1="146.2" y1="681.8" x2="193.4" y2="681.8" stroke="#231f20" stroke-width="1.6"/>
<rect x="148.6" y="686.3" width="42.4" height="5.6" fill="#231f20" rx="1.8"/>
<rect x="149.6" y="691.9" width="40.4" height="5.8" fill="#231f20" rx="1.8"/>
<rect x="151" y="697.7" width="37.6" height="5.7" fill="#231f20" rx="1.8"/>
<rect x="152.5" y="703.4" width="34.6" height="5.7" fill="#231f20" rx="1.8"/>
<rect x="154" y="709.1" width="31.6" height="5.6" fill="#231f20" rx="1.8"/>
<rect x="155.4" y="714.7" width="28.8" height="4.9" fill="#231f20" rx="1.8"/>
<rect x="156.2" y="719" width="27.2" height="5.9" fill="#231f20" rx="1.8"/>
<path d="M150.2,686.3 L189.4,686.3 L182.3,722 L157.3,722 Z" fill="#231f20"/>
<rect x="151" y="688.25" width="37.6" height="1.9" fill="#f0f0f0"/>
<rect x="152.2" y="693.85" width="35.2" height="1.9" fill="#f0f0f0"/>
<rect x="153.8" y="699.65" width="32" height="1.9" fill="#f0f0f0"/>
<rect x="155.3" y="705.35" width="29" height="1.9" fill="#f0f0f0"/>
<rect x="156.9" y="710.95" width="25.8" height="1.9" fill="#f0f0f0"/>
<rect x="158.6" y="716.55" width="22.4" height="1.9" fill="#f0f0f0"/>
<path d="M213.9,676.4 L265.9,676.4 L263.5,681.6 L263.5,686.3 L216.3,686.3 L216.3,681.6 Z" fill="#e6e7e8" stroke="#231f20" stroke-width="1.6" stroke-linejoin="miter"/>
<line x1="216.3" y1="681.8" x2="263.5" y2="681.8" stroke="#231f20" stroke-width="1.6"/>
<rect x="218.7" y="686.3" width="42.4" height="5.6" fill="#231f20" rx="1.8"/>
<rect x="219.7" y="691.9" width="40.4" height="5.8" fill="#231f20" rx="1.8"/>
<rect x="221.1" y="697.7" width="37.6" height="5.7" fill="#231f20" rx="1.8"/>
<rect x="222.6" y="703.4" width="34.6" height="5.7" fill="#231f20" rx="1.8"/>
<rect x="224.1" y="709.1" width="31.6" height="5.6" fill="#231f20" rx="1.8"/>
<rect x="225.5" y="714.7" width="28.8" height="4.9" fill="#231f20" rx="1.8"/>
<rect x="226.3" y="719" width="27.2" height="5.9" fill="#231f20" rx="1.8"/>
<path d="M220.3,686.3 L259.5,686.3 L252.4,722 L227.4,722 Z" fill="#231f20"/>
<rect x="221.1" y="688.25" width="37.6" height="1.9" fill="#f0f0f0"/>
<rect x="222.3" y="693.85" width="35.2" height="1.9" fill="#f0f0f0"/>
<rect x="223.9" y="699.65" width="32" height="1.9" fill="#f0f0f0"/>
<rect x="225.4" y="705.35" width="29" height="1.9" fill="#f0f0f0"/>
<rect x="227" y="710.95" width="25.8" height="1.9" fill="#f0f0f0"/>
<rect x="228.7" y="716.55" width="22.4" height="1.9" fill="#f0f0f0"/>
<path d="M315.9,676.4 L367.9,676.4 L365.5,681.6 L365.5,686.3 L318.3,686.3 L318.3,681.6 Z" fill="#e6e7e8" stroke="#231f20" stroke-width="1.6" stroke-linejoin="miter"/>
<line x1="318.3" y1="681.8" x2="365.5" y2="681.8" stroke="#231f20" stroke-width="1.6"/>
<rect x="320.7" y="686.3" width="42.4" height="5.6" fill="#231f20" rx="1.8"/>
<rect x="321.7" y="691.9" width="40.4" height="5.8" fill="#231f20" rx="1.8"/>
<rect x="323.1" y="697.7" width="37.6" height="5.7" fill="#231f20" rx="1.8"/>
<rect x="324.6" y="703.4" width="34.6" height="5.7" fill="#231f20" rx="1.8"/>
<rect x="326.1" y="709.1" width="31.6" height="5.6" fill="#231f20" rx="1.8"/>
<rect x="327.5" y="714.7" width="28.8" height="4.9" fill="#231f20" rx="1.8"/>
<rect x="328.3" y="719" width="27.2" height="5.9" fill="#231f20" rx="1.8"/>
<path d="M322.3,686.3 L361.5,686.3 L354.4,722 L329.4,722 Z" fill="#231f20"/>
<rect x="323.1" y="688.25" width="37.6" height="1.9" fill="#f0f0f0"/>
<rect x="324.3" y="693.85" width="35.2" height="1.9" fill="#f0f0f0"/>
<rect x="325.9" y="699.65" width="32" height="1.9" fill="#f0f0f0"/>
<rect x="327.4" y="705.35" width="29" height="1.9" fill="#f0f0f0"/>
<rect x="329" y="710.95" width="25.8" height="1.9" fill="#f0f0f0"/>
<rect x="330.7" y="716.55" width="22.4" height="1.9" fill="#f0f0f0"/>
<path d="M385.5,676.4 L437.5,676.4 L435.1,681.6 L435.1,686.3 L387.9,686.3 L387.9,681.6 Z" fill="#e6e7e8" stroke="#231f20" stroke-width="1.6" stroke-linejoin="miter"/>
<line x1="387.9" y1="681.8" x2="435.1" y2="681.8" stroke="#231f20" stroke-width="1.6"/>
<rect x="390.3" y="686.3" width="42.4" height="5.6" fill="#231f20" rx="1.8"/>
<rect x="391.3" y="691.9" width="40.4" height="5.8" fill="#231f20" rx="1.8"/>
<rect x="392.7" y="697.7" width="37.6" height="5.7" fill="#231f20" rx="1.8"/>
<rect x="394.2" y="703.4" width="34.6" height="5.7" fill="#231f20" rx="1.8"/>
<rect x="395.7" y="709.1" width="31.6" height="5.6" fill="#231f20" rx="1.8"/>
<rect x="397.1" y="714.7" width="28.8" height="4.9" fill="#231f20" rx="1.8"/>
<rect x="397.9" y="719" width="27.2" height="5.9" fill="#231f20" rx="1.8"/>
<path d="M391.9,686.3 L431.1,686.3 L424,722 L399,722 Z" fill="#231f20"/>
<rect x="392.7" y="688.25" width="37.6" height="1.9" fill="#f0f0f0"/>
<rect x="393.9" y="693.85" width="35.2" height="1.9" fill="#f0f0f0"/>
<rect x="395.5" y="699.65" width="32" height="1.9" fill="#f0f0f0"/>
<rect x="397" y="705.35" width="29" height="1.9" fill="#f0f0f0"/>
<rect x="398.6" y="710.95" width="25.8" height="1.9" fill="#f0f0f0"/>
<rect x="400.3" y="716.55" width="22.4" height="1.9" fill="#f0f0f0"/>
<path d="M487.3,676.4 L539.3,676.4 L536.9,681.6 L536.9,686.3 L489.7,686.3 L489.7,681.6 Z" fill="#e6e7e8" stroke="#231f20" stroke-width="1.6" stroke-linejoin="miter"/>
<line x1="489.7" y1="681.8" x2="536.9" y2="681.8" stroke="#231f20" stroke-width="1.6"/>
<rect x="492.1" y="686.3" width="42.4" height="5.6" fill="#231f20" rx="1.8"/>
<rect x="493.1" y="691.9" width="40.4" height="5.8" fill="#231f20" rx="1.8"/>
<rect x="494.5" y="697.7" width="37.6" height="5.7" fill="#231f20" rx="1.8"/>
<rect x="496" y="703.4" width="34.6" height="5.7" fill="#231f20" rx="1.8"/>
<rect x="497.5" y="709.1" width="31.6" height="5.6" fill="#231f20" rx="1.8"/>
<rect x="498.9" y="714.7" width="28.8" height="4.9" fill="#231f20" rx="1.8"/>
<rect x="499.7" y="719" width="27.2" height="5.9" fill="#231f20" rx="1.8"/>
<path d="M493.7,686.3 L532.9,686.3 L525.8,722 L500.8,722 Z" fill="#231f20"/>
<rect x="494.5" y="688.25" width="37.6" height="1.9" fill="#f0f0f0"/>
<rect x="495.7" y="693.85" width="35.2" height="1.9" fill="#f0f0f0"/>
<rect x="497.3" y="699.65" width="32" height="1.9" fill="#f0f0f0"/>
<rect x="498.8" y="705.35" width="29" height="1.9" fill="#f0f0f0"/>
<rect x="500.4" y="710.95" width="25.8" height="1.9" fill="#f0f0f0"/>
<rect x="502.1" y="716.55" width="22.4" height="1.9" fill="#f0f0f0"/>
<path d="M557.3,676.4 L609.3,676.4 L606.9,681.6 L606.9,686.3 L559.7,686.3 L559.7,681.6 Z" fill="#e6e7e8" stroke="#231f20" stroke-width="1.6" stroke-linejoin="miter"/>
<line x1="559.7" y1="681.8" x2="606.9" y2="681.8" stroke="#231f20" stroke-width="1.6"/>
<rect x="562.1" y="686.3" width="42.4" height="5.6" fill="#231f20" rx="1.8"/>
<rect x="563.1" y="691.9" width="40.4" height="5.8" fill="#231f20" rx="1.8"/>
<rect x="564.5" y="697.7" width="37.6" height="5.7" fill="#231f20" rx="1.8"/>
<rect x="566" y="703.4" width="34.6" height="5.7" fill="#231f20" rx="1.8"/>
<rect x="567.5" y="709.1" width="31.6" height="5.6" fill="#231f20" rx="1.8"/>
<rect x="568.9" y="714.7" width="28.8" height="4.9" fill="#231f20" rx="1.8"/>
<rect x="569.7" y="719" width="27.2" height="5.9" fill="#231f20" rx="1.8"/>
<path d="M563.7,686.3 L602.9,686.3 L595.8,722 L570.8,722 Z" fill="#231f20"/>
<rect x="564.5" y="688.25" width="37.6" height="1.9" fill="#f0f0f0"/>
<rect x="565.7" y="693.85" width="35.2" height="1.9" fill="#f0f0f0"/>
<rect x="567.3" y="699.65" width="32" height="1.9" fill="#f0f0f0"/>
<rect x="568.8" y="705.35" width="29" height="1.9" fill="#f0f0f0"/>
<rect x="570.4" y="710.95" width="25.8" height="1.9" fill="#f0f0f0"/>
<rect x="572.1" y="716.55" width="22.4" height="1.9" fill="#f0f0f0"/>
</g>
<g id="bolts">
<path d="M462.8,313.1 L467.8,318.1 L462.8,323.1 L457.8,318.1 Z" fill="#d9dadb"/>
<path d="M634.55,313.1 L639.55,318.1 L634.55,323.1 L629.55,318.1 Z" fill="#d9dadb"/>
<circle cx="126.7" cy="153.7" r="6.5" fill="#ffffff" stroke="#231f20" stroke-width="2.7"/>
<circle cx="126.7" cy="153.7" r="2.75" fill="#ffffff" stroke="#231f20" stroke-width="1.9"/>
<circle cx="455.2" cy="153.7" r="6.5" fill="#ffffff" stroke="#231f20" stroke-width="2.7"/>
<circle cx="455.2" cy="153.7" r="2.75" fill="#ffffff" stroke="#231f20" stroke-width="1.9"/>
<circle cx="470.4" cy="153.7" r="6.5" fill="#ffffff" stroke="#231f20" stroke-width="2.7"/>
<circle cx="470.4" cy="153.7" r="2.75" fill="#ffffff" stroke="#231f20" stroke-width="1.9"/>
<circle cx="627" cy="153.7" r="6.5" fill="#ffffff" stroke="#231f20" stroke-width="2.7"/>
<circle cx="627" cy="153.7" r="2.75" fill="#ffffff" stroke="#231f20" stroke-width="1.9"/>
<circle cx="642.1" cy="153.7" r="6.5" fill="#ffffff" stroke="#231f20" stroke-width="2.7"/>
<circle cx="642.1" cy="153.7" r="2.75" fill="#ffffff" stroke="#231f20" stroke-width="1.9"/>
<circle cx="798.6" cy="153.7" r="6.5" fill="#ffffff" stroke="#231f20" stroke-width="2.7"/>
<circle cx="798.6" cy="153.7" r="2.75" fill="#ffffff" stroke="#231f20" stroke-width="1.9"/>
<circle cx="126.7" cy="310.8" r="6.5" fill="#ffffff" stroke="#231f20" stroke-width="2.7"/>
<circle cx="126.7" cy="310.8" r="2.75" fill="#ffffff" stroke="#231f20" stroke-width="1.9"/>
<circle cx="455.2" cy="310.8" r="6.5" fill="#ffffff" stroke="#231f20" stroke-width="2.7"/>
<circle cx="455.2" cy="310.8" r="2.75" fill="#ffffff" stroke="#231f20" stroke-width="1.9"/>
<circle cx="470.4" cy="310.8" r="6.5" fill="#ffffff" stroke="#231f20" stroke-width="2.7"/>
<circle cx="470.4" cy="310.8" r="2.75" fill="#ffffff" stroke="#231f20" stroke-width="1.9"/>
<circle cx="627" cy="310.8" r="6.5" fill="#ffffff" stroke="#231f20" stroke-width="2.7"/>
<circle cx="627" cy="310.8" r="2.75" fill="#ffffff" stroke="#231f20" stroke-width="1.9"/>
<circle cx="642.1" cy="310.8" r="6.5" fill="#ffffff" stroke="#231f20" stroke-width="2.7"/>
<circle cx="642.1" cy="310.8" r="2.75" fill="#ffffff" stroke="#231f20" stroke-width="1.9"/>
<circle cx="798.6" cy="310.8" r="6.5" fill="#ffffff" stroke="#231f20" stroke-width="2.7"/>
<circle cx="798.6" cy="310.8" r="2.75" fill="#ffffff" stroke="#231f20" stroke-width="1.9"/>
<circle cx="126.7" cy="325.6" r="6.5" fill="#ffffff" stroke="#231f20" stroke-width="2.7"/>
<circle cx="126.7" cy="325.6" r="2.75" fill="#ffffff" stroke="#231f20" stroke-width="1.9"/>
<circle cx="283" cy="325.6" r="6.5" fill="#ffffff" stroke="#231f20" stroke-width="2.7"/>
<circle cx="283" cy="325.6" r="2.75" fill="#ffffff" stroke="#231f20" stroke-width="1.9"/>
<circle cx="298.4" cy="325.6" r="6.5" fill="#ffffff" stroke="#231f20" stroke-width="2.7"/>
<circle cx="298.4" cy="325.6" r="2.75" fill="#ffffff" stroke="#231f20" stroke-width="1.9"/>
<circle cx="455.2" cy="325.6" r="6.5" fill="#ffffff" stroke="#231f20" stroke-width="2.7"/>
<circle cx="455.2" cy="325.6" r="2.75" fill="#ffffff" stroke="#231f20" stroke-width="1.9"/>
<circle cx="470.4" cy="325.6" r="6.5" fill="#ffffff" stroke="#231f20" stroke-width="2.7"/>
<circle cx="470.4" cy="325.6" r="2.75" fill="#ffffff" stroke="#231f20" stroke-width="1.9"/>
<circle cx="627" cy="325.6" r="6.5" fill="#ffffff" stroke="#231f20" stroke-width="2.7"/>
<circle cx="627" cy="325.6" r="2.75" fill="#ffffff" stroke="#231f20" stroke-width="1.9"/>
<circle cx="642.1" cy="325.6" r="6.5" fill="#ffffff" stroke="#231f20" stroke-width="2.7"/>
<circle cx="642.1" cy="325.6" r="2.75" fill="#ffffff" stroke="#231f20" stroke-width="1.9"/>
<circle cx="798.6" cy="325.6" r="6.5" fill="#ffffff" stroke="#231f20" stroke-width="2.7"/>
<circle cx="798.6" cy="325.6" r="2.75" fill="#ffffff" stroke="#231f20" stroke-width="1.9"/>
<circle cx="126.7" cy="654.5" r="6.5" fill="#ffffff" stroke="#231f20" stroke-width="2.7"/>
<circle cx="126.7" cy="654.5" r="2.75" fill="#ffffff" stroke="#231f20" stroke-width="1.9"/>
<circle cx="283" cy="654.5" r="6.5" fill="#ffffff" stroke="#231f20" stroke-width="2.7"/>
<circle cx="283" cy="654.5" r="2.75" fill="#ffffff" stroke="#231f20" stroke-width="1.9"/>
<circle cx="298.4" cy="654.5" r="6.5" fill="#ffffff" stroke="#231f20" stroke-width="2.7"/>
<circle cx="298.4" cy="654.5" r="2.75" fill="#ffffff" stroke="#231f20" stroke-width="1.9"/>
<circle cx="455.2" cy="654.5" r="6.5" fill="#ffffff" stroke="#231f20" stroke-width="2.7"/>
<circle cx="455.2" cy="654.5" r="2.75" fill="#ffffff" stroke="#231f20" stroke-width="1.9"/>
<circle cx="470.4" cy="654.5" r="6.5" fill="#ffffff" stroke="#231f20" stroke-width="2.7"/>
<circle cx="470.4" cy="654.5" r="2.75" fill="#ffffff" stroke="#231f20" stroke-width="1.9"/>
<circle cx="627" cy="654.5" r="6.5" fill="#ffffff" stroke="#231f20" stroke-width="2.7"/>
<circle cx="627" cy="654.5" r="2.75" fill="#ffffff" stroke="#231f20" stroke-width="1.9"/>
<circle cx="642.1" cy="654.5" r="6.5" fill="#ffffff" stroke="#231f20" stroke-width="2.7"/>
<circle cx="642.1" cy="654.5" r="2.75" fill="#ffffff" stroke="#231f20" stroke-width="1.9"/>
<circle cx="798.6" cy="654.5" r="6.5" fill="#ffffff" stroke="#231f20" stroke-width="2.7"/>
<circle cx="798.6" cy="654.5" r="2.75" fill="#ffffff" stroke="#231f20" stroke-width="1.9"/>
</g>
<g id="sides">
<rect x="104.6" y="227.4" width="11.6" height="23" fill="#c3674f" stroke="#231f20" stroke-width="1.6"/>
<rect x="809.2" y="227.4" width="10.2" height="23" fill="#c3674f" stroke="#231f20" stroke-width="1.6"/>
<rect x="104.6" y="562.5" width="11.6" height="22.6" fill="#c3674f" stroke="#231f20" stroke-width="1.6"/>
<rect x="809.2" y="562.5" width="10.2" height="22.6" fill="#c3674f" stroke="#231f20" stroke-width="1.6"/>
<path d="M105.4,658 L118.8,658 L118.8,664.8 L108,675.6 L105.4,675.6 Z" fill="#e6e7e8" stroke="#231f20" stroke-width="1.2" stroke-linejoin="miter"/>
<rect x="73.2" y="450.2" width="31.6" height="19" fill="#c3674f" stroke="#231f20" stroke-width="1.9" rx="2.2"/>
<circle cx="81.4" cy="459.8" r="2.9" fill="#c3674f" stroke="#231f20" stroke-width="1.5"/>
<circle cx="93.3" cy="672.6" r="2.6" fill="#8a4a3c" stroke="#231f20" stroke-width="1.5"/>
<rect x="816.4" y="145.6" width="4.8" height="47.2" fill="#ece4e8" stroke="#231f20" stroke-width="1.4"/>
<line x1="811.4" y1="162" x2="822" y2="162" stroke="#231f20" stroke-width="1.9"/>
<path d="M816.4,192.8 L821.2,192.8 L822.4,222 L819.6,222 Z" fill="#ece4e8" stroke="#231f20" stroke-width="1.4" stroke-linejoin="miter"/>
<rect x="819.6" y="222" width="2.8" height="139" fill="#ece4e8" stroke="#231f20" stroke-width="1.3"/>
<rect x="811.3" y="360.9" width="7.5" height="6.3" fill="#231f20"/>
<rect x="818.6" y="361.4" width="3.4" height="5.2" fill="#ffffff" stroke="#231f20" stroke-width="1.3"/>
<rect x="818.4" y="366.9" width="3.6" height="7.7" fill="#ece4e8" stroke="#231f20" stroke-width="1.3"/>
<rect x="817.4" y="374.6" width="4.6" height="72.7" fill="#ece4e8" stroke="#231f20" stroke-width="1.4"/>
<path d="M815.6,404.6 L818.4,397.6 L821.6,397.6 L821.6,417 L818.4,417 L815.6,410 Z" fill="#231f20"/>
<rect x="809.4" y="405.3" width="6.2" height="4" fill="#ffffff" stroke="#231f20" stroke-width="1.4"/>
<rect x="811.3" y="447.2" width="7.5" height="6.3" fill="#231f20"/>
<rect x="818.6" y="447.6" width="3.4" height="5.6" fill="#ffffff" stroke="#231f20" stroke-width="1.3"/>
<rect x="819.6" y="453.4" width="2.8" height="139.6" fill="#ece4e8" stroke="#231f20" stroke-width="1.3"/>
<path d="M819.6,593 L822.4,593 L821.2,621 L816.4,621 Z" fill="#ece4e8" stroke="#231f20" stroke-width="1.4" stroke-linejoin="miter"/>
<rect x="816.4" y="621" width="4.8" height="47" fill="#ece4e8" stroke="#231f20" stroke-width="1.4"/>
<line x1="811.4" y1="661" x2="822" y2="661" stroke="#231f20" stroke-width="1.9"/>
<line x1="819.8" y1="668" x2="819.8" y2="686" stroke="#231f20" stroke-width="1.1"/>
<path d="M837,399.4 L843.8,401 L843.8,414.2 L837,415.8 Z" fill="#c3674f" stroke="#231f20" stroke-width="1.6" stroke-linejoin="miter"/>
<rect x="843.8" y="402.2" width="10.4" height="11.2" fill="#c3674f" stroke="#231f20" stroke-width="1.6"/>
<rect x="854.2" y="400.6" width="5.3" height="14.2" fill="#c3674f" stroke="#231f20" stroke-width="1.6" rx="0.8"/>
</g>
<g id="legs">
<clipPath id="legclip"><path d="M60,703.2 L75.5,703.2 L95.7,687.6 L108.5,687.6 L108.5,703.2 L817.5,703.2 L817.5,687.6 L830.2,687.6 L850.3,703.2 L870,703.2 L870,990 L60,990 Z"/></clipPath>
<g clip-path="url(#legclip)">
<path d="M96,688 L85.9,907.8 A44,44 0 0 0 131.4,953.8 L463,943 L794.6,953.8 A44,44 0 0 0 840.1,907.8 L830,688" fill="none" stroke="#231f20" stroke-width="17.2" stroke-linejoin="miter"/>
<path d="M96,688 L85.9,907.8 A44,44 0 0 0 131.4,953.8 L463,943 L794.6,953.8 A44,44 0 0 0 840.1,907.8 L830,688" fill="none" stroke="#dddedf" stroke-width="14" stroke-linejoin="miter"/>
</g>
<rect x="95.7" y="687.7" width="12.2" height="2.5" fill="#e6e7e8" stroke="#231f20" stroke-width="1.1"/>
<rect x="818.2" y="687.7" width="12" height="2.5" fill="#e6e7e8" stroke="#231f20" stroke-width="1.1"/>
<line x1="95.2" y1="687" x2="108.4" y2="687" stroke="#231f20" stroke-width="2"/>
<line x1="817.7" y1="687" x2="830.7" y2="687" stroke="#231f20" stroke-width="2"/>
<line x1="75.5" y1="703" x2="95.7" y2="687.5" stroke="#231f20" stroke-width="1.6"/>
<line x1="850.3" y1="703" x2="830.2" y2="687.5" stroke="#231f20" stroke-width="1.6"/>
</g>
<g id="labels">
<line x1="552" y1="66" x2="763.7" y2="66" stroke="#231f20" stroke-width="1.7"/>
<line x1="763.2" y1="66" x2="776.5" y2="76" stroke="#231f20" stroke-width="1.6"/>
<text x="550.77" y="60.7" font-size="18.4" fill="#231f20" letter-spacing="1.91" stroke="#231f20" stroke-width="0.45" stroke-linejoin="round">Kranöse,</text>
<text x="648.7" y="60.7" font-size="18.4" fill="#231f20" letter-spacing="1.74" stroke="#231f20" stroke-width="0.45" stroke-linejoin="round">schwenkbar</text>
<text x="125.62" y="836.7" font-size="18.3" fill="#231f20" letter-spacing="1.79" stroke="#231f20" stroke-width="0.45" stroke-linejoin="round">Zuleitung</text>
<text x="279.83" y="997.3" font-size="18.5" fill="#231f20" letter-spacing="1.97" stroke="#231f20" stroke-width="0.45" stroke-linejoin="round">Stahlblechschrank</text>
<text x="871.98" y="716.1" font-size="18.2" fill="#231f20" letter-spacing="1.98" stroke="#231f20" stroke-width="0.45" stroke-linejoin="round">Tiefe</text>
<text x="932.87" y="716.1" font-size="18.2" fill="#231f20" textLength="55.17" lengthAdjust="spacingAndGlyphs" stroke="#231f20" stroke-width="0.45" stroke-linejoin="round">390mm</text>
<circle cx="878.5" cy="675.4" r="11.5" fill="none" stroke="#231f20" stroke-width="1.6"/>
<line x1="878.5" y1="667.2" x2="878.5" y2="675.6" stroke="#231f20" stroke-width="1.5"/>
<line x1="870.2" y1="675.6" x2="886.8" y2="675.6" stroke="#231f20" stroke-width="1.5"/>
<line x1="873.2" y1="679" x2="883.8" y2="679" stroke="#231f20" stroke-width="1.4"/>
<line x1="875.7" y1="682.2" x2="881.2" y2="682.2" stroke="#231f20" stroke-width="1.4"/>
</g>
</svg>
</body>
</html>
